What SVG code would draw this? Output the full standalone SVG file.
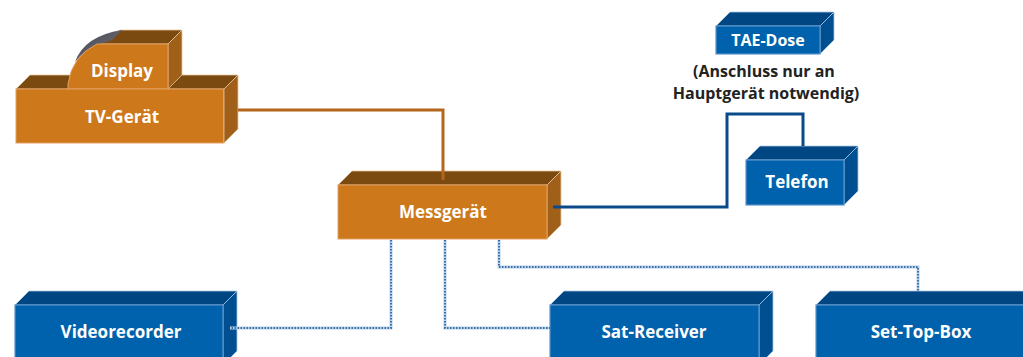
<svg xmlns="http://www.w3.org/2000/svg" width="1023" height="357" viewBox="0 0 1023 357">
<defs>
<style>
.of{fill:#cd781a;stroke:#e3a060;stroke-width:1}
.ot{fill:#7b4a10;stroke:#e8c49c;stroke-width:0.8}
.or{fill:#a0601a;stroke:#e8c49c;stroke-width:0.8}
.bf{fill:#0062ac;stroke:#5b93cc;stroke-width:1.2}
.bt{fill:#004682;stroke:#a9c6e4;stroke-width:0.8}
.br{fill:#005091;stroke:#a9c6e4;stroke-width:0.8}
.lbl{font-family:"Open Sans","DejaVu Sans",sans-serif;font-weight:bold;font-size:17px;fill:#ffffff;text-anchor:middle}
.note{font-family:"Open Sans","DejaVu Sans",sans-serif;font-weight:bold;font-size:16px;fill:#222222;text-anchor:middle}
.dotbase{fill:none;stroke:#b8d2ea;stroke-width:3}
.dot{fill:none;stroke:#3d70a8;stroke-width:2;stroke-dasharray:1.5 1.5}
</style>
<linearGradient id="scr" x1="0" y1="0" x2="1" y2="1">
<stop offset="0" stop-color="#3e4450"/>
<stop offset="0.55" stop-color="#60606a"/>
<stop offset="1" stop-color="#7b4a10"/>
</linearGradient>
</defs>
<rect width="1023" height="357" fill="#ffffff"/>

<g id="tv">
<polygon class="ot" points="16,89 30,75 238,75 224,89"/>
<polygon class="ot" points="97,44 168,44 182,30 120,30"/>
<path d="M75,62 Q84,36 122,30 L112,40 L100,44 Q84,50 75,62 Z" fill="url(#scr)"/>
<polygon class="or" points="168,44 182,30 182,75 168,89"/>
<path class="of" d="M68,89 L68,84 Q72,56 97,44 L168,44 L168,89 Z"/>
<text class="lbl" x="122" y="77">Display</text>
<rect class="of" x="16" y="89" width="208" height="54"/>
<polygon class="or" points="224,89 238,75 238,129 224,143"/>
<text class="lbl" x="122" y="123">TV-Gerät</text>
</g>

<g id="messgeraet">
<polygon class="ot" points="338,185 352,171 561,171 547,185"/>
<polygon class="or" points="547,185 561,171 561,225 547,239"/>
<rect class="of" x="338" y="185" width="209" height="54"/>
<text class="lbl" x="443" y="218">Messgerät</text>
</g>

<g id="tae">
<polygon class="bt" points="716,26 730,12 834,12 820,26"/>
<polygon class="br" points="820,26 834,12 834,40 820,54"/>
<rect class="bf" x="716" y="26" width="104" height="28"/>
<text class="lbl" x="768" y="46" style="font-size:16px">TAE-Dose</text>
<text class="note" x="764" y="77">(Anschluss nur an</text>
<text class="note" x="766" y="99">Hauptgerät notwendig)</text>
</g>

<g id="telefon">
<polygon class="bt" points="746,160 760,146 858,146 844,160"/>
<polygon class="br" points="844,160 858,146 858,191 844,205"/>
<rect class="bf" x="746" y="160" width="98" height="45"/>
<text class="lbl" x="797" y="188">Telefon</text>
</g>

<g id="videorecorder">
<polygon class="bt" points="15,305 29,291 237,291 223,305"/>
<polygon class="br" points="223,305 237,291 237,351 223,365"/>
<rect class="bf" x="15" y="305" width="208" height="60"/>
<text class="lbl" x="121" y="338">Videorecorder</text>
</g>

<g id="satreceiver">
<polygon class="bt" points="550,305 564,291 773,291 759,305"/>
<polygon class="br" points="759,305 773,291 773,351 759,365"/>
<rect class="bf" x="550" y="305" width="209" height="60"/>
<text class="lbl" x="654" y="338">Sat-Receiver</text>
</g>

<g id="settopbox">
<polygon class="bt" points="816,305 830,291 1039,291 1025,305"/>
<rect class="bf" x="816" y="305" width="209" height="60"/>
<text class="lbl" x="921" y="338">Set-Top-Box</text>
</g>

<g id="connectors">
<path d="M238,110 H443 V180" fill="none" stroke="#b4661c" stroke-width="3"/>
<path d="M553,207 H727 V114 H803 V146" fill="none" stroke="#0b4a8a" stroke-width="3"/>
<path class="dotbase" d="M391,240 V328 H230"/>
<path class="dot" d="M391,240 V328 H230"/>
<path class="dotbase" d="M445,240 V328 H550"/>
<path class="dot" d="M445,240 V328 H550"/>
<path class="dotbase" d="M499,240 V267 H918 V291"/>
<path class="dot" d="M499,240 V267 H918 V291"/>
</g>
</svg>
